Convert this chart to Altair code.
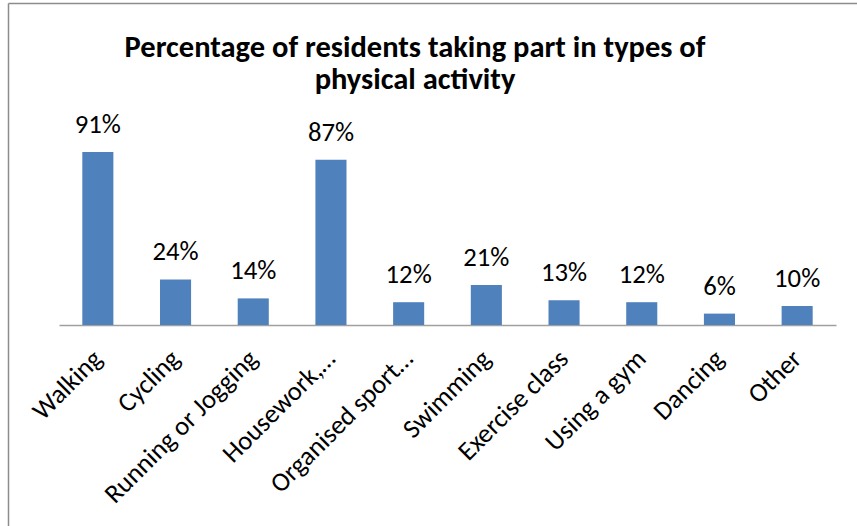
import altair as alt
import pandas as pd

categories = ["Walking", "Cycling", "Running or Jogging", "Housework,\u2026", "Organised sport\u2026",
              "Swimming", "Exercise class", "Using a gym", "Dancing", "Other"]
values = [91, 24, 14, 87, 12, 21, 13, 12, 6, 10]
value_labels = ["91%", "24%", "14%", "87%", "12%", "21%", "13%", "12%", "6%", "10%"]
title_lines = ["Percentage of residents taking part in types of", "physical activity"]

df = pd.DataFrame({"cat": categories, "val": values, "lab": value_labels})
one = pd.DataFrame({"k": [0]})

FONT = "Carlito, Calibri, Open Sans"

x_enc = alt.X("cat:N", sort=categories,
              scale=alt.Scale(paddingInner=0.6, paddingOuter=0.3),
              axis=alt.Axis(title=None, labelAngle=-45, labelFont=FONT, labelFontSize=26.5,
                            labelColor="#000000", ticks=False, domainColor="#A0A0A0",
                            domainWidth=1.5, labelPadding=20, labelOffset=-9, labelLimit=400))
y_enc = alt.Y("val:Q", scale=alt.Scale(domain=[0, 100]), axis=None)

bars = alt.Chart(df).mark_bar(color="#4F81BD").encode(x=x_enc, y=y_enc)
labels = alt.Chart(df).mark_text(font=FONT, fontSize=26.7, color="#000000", dy=-19,
                                 baseline="alphabetic").encode(
    x=alt.X("cat:N", sort=categories), y="val:Q", text="lab:N")

title = alt.Chart(one).mark_text(text=title_lines, font=FONT, fontSize=30.5, fontWeight="bold",
                                 color="#000000", align="center", baseline="alphabetic",
                                 lineHeight=32).encode(x=alt.value(356), y=alt.value(-78))

frame_top = alt.Chart(one).mark_rule(color="#8C8C8C", strokeWidth=1.5).encode(
    x=alt.value(-50.5), x2=alt.value(900), y=alt.value(-131.5))
frame_left = alt.Chart(one).mark_rule(color="#8C8C8C", strokeWidth=1.5).encode(
    x=alt.value(-50.5), y=alt.value(-131.5), y2=alt.value(400))

chart = alt.layer(frame_top, frame_left, title, bars, labels).properties(
    width=777, height=190,
    autosize=alt.AutoSizeParams(type="none"),
    padding={"left": 59, "top": 135, "right": 21, "bottom": 201},
).configure_view(stroke=None)

chart.save("out.html", embed_options={"renderer": "svg", "actions": False})
